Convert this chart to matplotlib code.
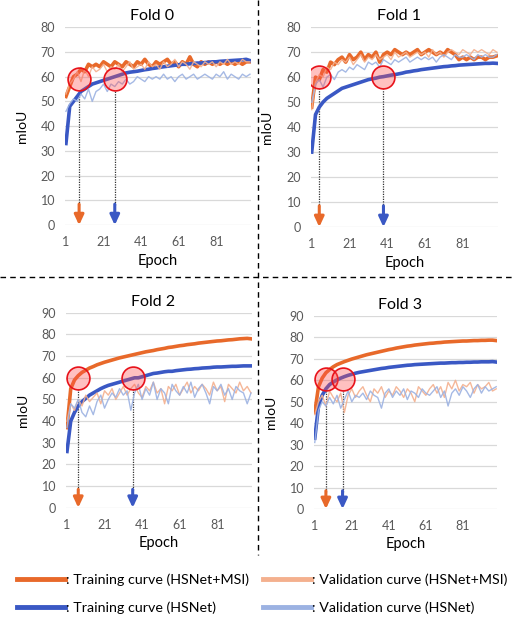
import numpy as np
import matplotlib
matplotlib.use('Agg')
import matplotlib.pyplot as plt
from matplotlib.lines import Line2D

plt.rcParams['font.family'] = ['Lato', 'DejaVu Sans']

# epochs sampled every 2 epochs (1, 3, ..., 99)
epochs = list(range(1, 100, 2))

# ---- Fold 0 ----
f0_train_msi = [52, 56, 60, 61, 63, 62, 65, 64, 65, 64, 66, 65, 64, 66, 65, 64, 66, 65, 64, 66,
                65, 67, 65, 64, 66, 65, 66, 67, 65, 66, 64, 66, 65, 68, 65, 64, 66, 65, 66, 65,
                66, 65, 66, 65, 66, 65, 66, 65, 66, 66]
f0_val_msi = [53, 57, 59, 62, 58, 63, 60, 64, 62, 63, 65, 62, 64, 63, 65, 62, 64, 66, 63, 64,
              65, 63, 66, 64, 65, 63, 66, 64, 65, 67, 64, 66, 65, 63, 66, 65, 64, 66, 65, 66,
              64, 66, 65, 67, 65, 66, 65, 67, 66, 66]
f0_train_hs = [33, 48, 50, 52, 54, 55, 56, 57, 57.5, 58, 58.5, 59, 59.5, 60, 60.5, 61, 61.5, 61.8, 62, 62.2,
               62.5, 62.8, 63, 63.3, 63.5, 63.8, 64, 64.2, 64.4, 64.6, 64.8, 65, 65, 65.2, 65.3, 65.5, 65.5, 65.7, 65.8, 66,
               66, 66.2, 66.3, 66.4, 66.5, 66.6, 66.7, 66.8, 67, 66.5]
f0_val_hs = [46, 49, 51, 50, 53, 51, 55, 50, 54, 55, 57, 54, 57, 56, 58, 57, 59, 57, 58, 60,
             59, 58, 60, 59, 60, 59, 61, 59, 60, 58, 60, 61, 59, 60, 61, 59, 60, 61, 60, 59,
             61, 60, 62, 59, 61, 60, 59, 61, 60, 61]

# ---- Fold 1 ----
f1_train_msi = [48, 60, 59, 63, 62, 66, 65, 67, 68, 66, 69, 67, 68, 70, 67, 69, 68, 70, 66, 69,
                70, 69, 71, 70, 69, 70, 69, 70, 71, 69, 70, 71, 70, 69, 70, 69, 71, 70, 69, 67,
                68, 67, 68, 67, 68, 68, 67, 68, 68, 68.5]
f1_val_msi = [47, 58, 61, 60, 64, 63, 66, 65, 67, 66, 68, 65, 67, 69, 66, 68, 67, 69, 67, 68,
              69, 67, 70, 68, 69, 70, 68, 69, 70, 69, 70, 68, 71, 69, 70, 68, 70, 71, 70, 69,
              71, 70, 69, 71, 70, 71, 70, 69, 71, 70]
f1_train_hs = [30, 45, 48, 50, 51.5, 52.5, 53.5, 54.5, 55.5, 56, 56.5, 57, 57.5, 58, 58.5, 59, 59.3, 59.6, 60, 60.2,
               60.5, 60.8, 61, 61.3, 61.6, 62, 62.2, 62.5, 62.7, 63, 63.2, 63.4, 63.6, 63.8, 64, 64.2, 64.3, 64.5, 64.6, 64.8,
               64.9, 65, 65.1, 65.2, 65.3, 65.4, 65.5, 65.5, 65.6, 65.5]
f1_val_hs = [50, 57, 59, 56, 60, 61, 59, 62, 63, 62, 64, 63, 65, 64, 63, 66, 65, 66, 64, 67,
             66, 65, 67, 66, 67, 68, 66, 67, 68, 67, 68, 67, 68, 66, 68, 69, 68, 67, 69, 68,
             68, 69, 68, 67, 69, 68, 69, 68, 68, 69]

# ---- Fold 2 ----
f2_train_msi = [37, 55, 59, 61, 62.5, 63.5, 64.5, 65.2, 66, 66.6, 67.2, 67.7, 68.2, 68.7, 69.2, 69.6, 70, 70.4, 70.8, 71.2,
                71.6, 72, 72.3, 72.6, 73, 73.3, 73.6, 74, 74.2, 74.5, 74.8, 75, 75.3, 75.5, 75.7, 76, 76.2, 76.4, 76.6, 76.8,
                77, 77.1, 77.3, 77.5, 77.6, 77.8, 78, 78.1, 78.2, 78]
f2_val_msi = [40, 48, 45, 50, 47, 52, 49, 51, 53, 48, 54, 52, 55, 50, 53, 56, 52, 55, 57, 53,
              51, 56, 54, 58, 53, 55, 48, 56, 54, 57, 52, 55, 58, 53, 56, 54, 57, 55, 52, 58,
              54, 56, 49, 57, 55, 53, 58, 54, 56, 53]
f2_train_hs = [26, 40, 44, 47, 49, 50.5, 52, 53, 54, 55, 55.8, 56.5, 57, 57.5, 58, 58.5, 59, 59.5, 60, 60,
               60.5, 61, 61.5, 62, 62.2, 62.5, 62.8, 63, 63, 63.3, 63.5, 63.7, 63.9, 64, 64.2, 64.3, 64.5, 64.6, 64.7, 64.9,
               65, 65, 65.1, 65.2, 65.3, 65.3, 65.4, 65.5, 65.5, 65.5]
f2_val_hs = [37, 48, 46, 50, 44, 42, 47, 43, 49, 52, 46, 50, 53, 51, 55, 52, 54, 45, 53, 57,
             50, 55, 52, 58, 50, 55, 53, 48, 57, 54, 52, 56, 53, 58, 51, 55, 57, 53, 48, 56,
             54, 57, 52, 55, 50, 56, 54, 53, 48, 53]

# ---- Fold 3 ----
f3_train_msi = [45, 57, 61, 63.5, 65, 66.3, 67.3, 68, 68.7, 69.3, 69.9, 70.4, 70.9, 71.4, 71.9, 72.3, 72.7, 73.1, 73.5, 73.9,
                74.3, 74.6, 75, 75.3, 75.6, 75.9, 76.1, 76.4, 76.6, 76.8, 77, 77.2, 77.3, 77.5, 77.6, 77.8, 77.9, 78, 78.1, 78.2,
                78.3, 78.3, 78.4, 78.5, 78.5, 78.6, 78.6, 78.7, 78.7, 78.5]
f3_val_msi = [44, 50, 53, 48, 55, 52, 50, 54, 45, 53, 56, 52, 55, 57, 53, 50, 56, 54, 57, 52,
              55, 53, 57, 55, 52, 56, 54, 50, 57, 55, 53, 56, 58, 54, 57, 52, 59, 56, 60, 55,
              58, 57, 59, 54, 58, 56, 57, 59, 55, 56]
f3_train_hs = [33, 48, 53, 56, 58, 59.2, 60.2, 61, 61.7, 62.3, 62.8, 63.3, 63.7, 64, 64.3, 64.6, 64.9, 65.2, 65.5, 65.7,
               66, 66.2, 66.4, 66.6, 66.8, 67, 67.1, 67.3, 67.4, 67.5, 67.6, 67.7, 67.8, 67.9, 68, 68, 68.1, 68.2, 68.2, 68.3,
               68.3, 68.4, 68.4, 68.5, 68.5, 68.6, 68.6, 68.6, 68.7, 68.5]
f3_val_hs = [31, 46, 50, 48, 52, 49, 53, 47, 51, 55, 50, 53, 52, 54, 51, 55, 53, 52, 47, 54,
             56, 52, 55, 53, 56, 51, 55, 54, 52, 56, 54, 53, 55, 57, 52, 55, 48, 54, 56, 53,
             57, 55, 52, 56, 58, 54, 57, 55, 56, 57]

folds = ['Fold 0', 'Fold 1', 'Fold 2', 'Fold 3']
train_msi = [f0_train_msi, f1_train_msi, f2_train_msi, f3_train_msi]
val_msi = [f0_val_msi, f1_val_msi, f2_val_msi, f3_val_msi]
train_hs = [f0_train_hs, f1_train_hs, f2_train_hs, f3_train_hs]
val_hs = [f0_val_hs, f1_val_hs, f2_val_hs, f3_val_hs]
ymax = [80, 80, 90, 90]
# epochs where each curve reaches ~60 mIoU (circled) : (MSI, HSNet)
mark_epoch = [(8, 27), (5, 39), (7, 36), (7, 16)]
mark_level = [59, 60, 60, 60.5]

c_or = '#E8692A'
c_bl = '#3A58C4'
c_or_l = '#F4B08E'
c_bl_l = '#9CB2E2'

fig = plt.figure(figsize=(5.12, 6.17), dpi=100)
# axes rectangles in figure fraction
rects = [[0.127, 0.635, 0.363, 0.321],
         [0.607, 0.632, 0.365, 0.324],
         [0.129, 0.177, 0.363, 0.316],
         [0.613, 0.175, 0.358, 0.313]]

for i in range(4):
    ax = fig.add_axes(rects[i])
    ax.plot(epochs, train_msi[i], color=c_or, lw=2.6, zorder=3)
    ax.plot(epochs, train_hs[i], color=c_bl, lw=2.6, zorder=4)
    ax.plot(epochs, val_msi[i], color=c_or_l, lw=1.0, zorder=5, alpha=0.9)
    ax.plot(epochs, val_hs[i], color=c_bl_l, lw=1.0, zorder=6, alpha=0.9)

    r = 11.5 * ymax[i] / (rects[i][3] * 617)  # circle radius in data units
    for e, col in zip(mark_epoch[i], [c_or, c_bl]):
        ax.scatter([e], [mark_level[i]], s=270, facecolor=(1, 0.3, 0.3, 0.35),
                   edgecolor='#E8121A', lw=1.2, zorder=7)
        ax.plot([e, e], [8, mark_level[i] - r], ls=(0, (1, 1)), color='#333333', lw=0.9, zorder=2)
        ax.annotate('', xy=(e, 0), xytext=(e, 8.5), annotation_clip=False,
                    arrowprops=dict(arrowstyle='-|>,head_length=0.6,head_width=0.28', color=col,
                                    lw=2.2, mutation_scale=10, shrinkA=0, shrinkB=0), zorder=8)

    ax.set_xlim(0.5, 99.5)
    ax.set_ylim(0, ymax[i])
    ax.set_yticks(range(0, ymax[i] + 1, 10))
    ax.set_xticks([1, 21, 41, 61, 81])
    ax.grid(axis='y', color='#D9D9D9', lw=0.9)
    ax.set_axisbelow(True)
    for s in ax.spines.values():
        s.set_visible(False)
    ax.tick_params(length=0, labelsize=9, labelcolor='#595959')
    ax.tick_params(axis='x', pad=8)
    ax.tick_params(axis='y', pad=7)
    ax.set_title(folds[i], fontsize=11.5, x=0.47, pad=5)
    ax.set_ylabel('mIoU', fontsize=10)
    ax.set_xlabel('Epoch', fontsize=10.5)
    ax.yaxis.set_label_coords(-0.2, 0.5)
    ax.xaxis.set_label_coords(0.5, -0.145)

# dashed separators
fig.add_artist(Line2D([258 / 512, 258 / 512], [1.0, 1 - 555 / 617], color='black', lw=1, ls=(0, (4, 3))))
fig.add_artist(Line2D([0, 1], [1 - 277 / 617, 1 - 277 / 617], color='black', lw=1, ls=(0, (4, 3))))

handles = [Line2D([], [], color=c_or, lw=3.5),
           Line2D([], [], color=c_bl, lw=3.5),
           Line2D([], [], color=c_or_l, lw=3.5),
           Line2D([], [], color=c_bl_l, lw=3.5)]
labels = [': Training curve (HSNet+MSI)', ': Training curve (HSNet)',
          ': Validation curve (HSNet+MSI)', ': Validation curve (HSNet)']
fig.legend(handles, labels, ncol=2, loc='lower left', bbox_to_anchor=(0.02, -0.006),
           frameon=False, fontsize=10.3, handlelength=3.3, handletextpad=0.1,
           columnspacing=1.0, labelspacing=1.05, borderaxespad=0.1)

plt.savefig('out.png', dpi=100)
